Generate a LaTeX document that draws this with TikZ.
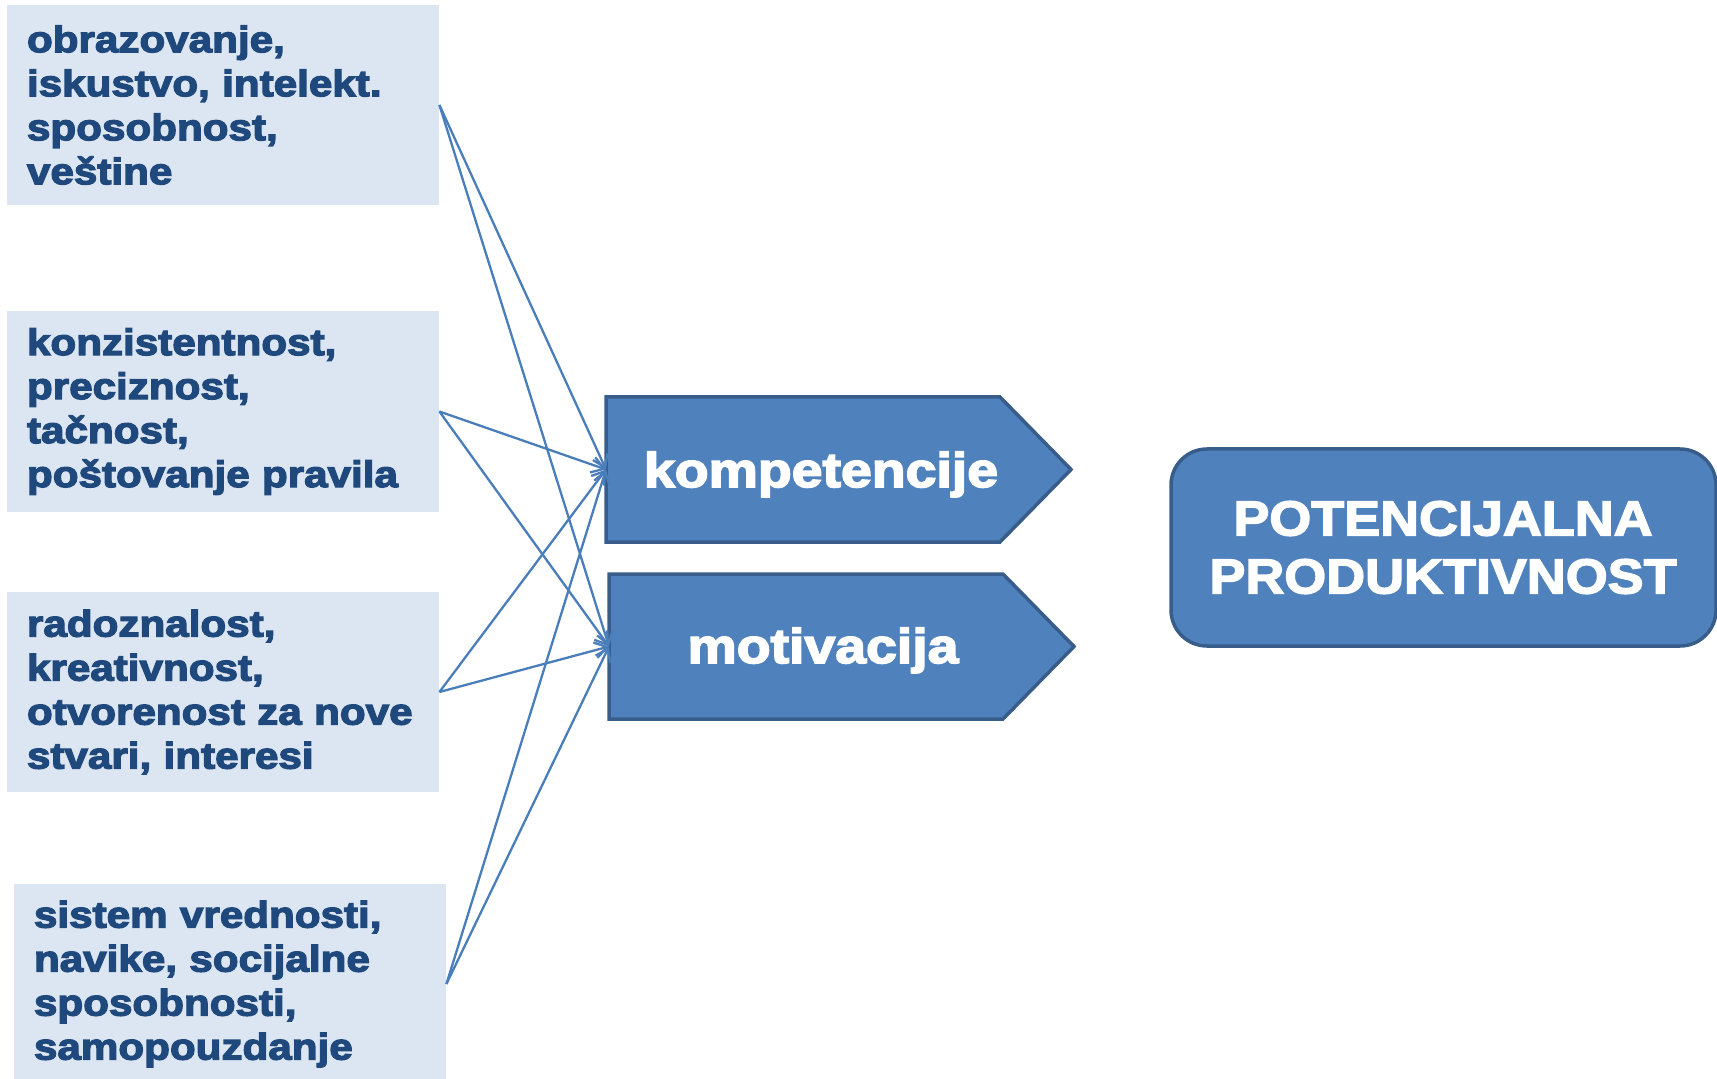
\documentclass[tikz,border=0pt]{standalone}
\usepackage{fontspec}
\setmainfont{Liberation Sans}
\newfontfamily\heavy[FakeStretch=1.14,FakeBold=3.5]{Liberation Sans}
\newfontfamily\capsfont[FakeStretch=1.1,FakeBold=3]{Liberation Sans}
\usetikzlibrary{arrows.meta}
\definecolor{boxfill}{HTML}{DCE6F2}
\definecolor{boxtext}{HTML}{1F497D}
\definecolor{accent}{HTML}{4F81BD}
\definecolor{accentdark}{HTML}{385D8A}
\definecolor{linkcol}{HTML}{4A7EBB}
\begin{document}
\begin{tikzpicture}[x=0.5pt,y=-0.5pt,
  srcbox/.style={rectangle, fill=boxfill, text=boxtext, minimum width=216pt,
    minimum height=100pt, text width=196pt, inner xsep=10pt, inner ysep=0pt,
    align=left, font=\heavy\bfseries\fontsize{18.5}{22}\selectfont},
  arrowbox/.style={fill=accent, draw=accentdark, line width=1.75pt, line join=miter},
  arrowlabel/.style={text=white, inner sep=0pt,
    font=\heavy\bfseries\fontsize{24.3}{29}\selectfont},
  goalbox/.style={rectangle, fill=accent, draw=accentdark, line width=1.75pt,
    rounded corners=18pt, inner sep=0pt, minimum width=272.5pt, minimum height=98.5pt},
  goallabel/.style={text=white, align=center, inner sep=0pt,
    font=\capsfont\bfseries\fontsize{24.5}{29}\selectfont},
  link/.style={draw=linkcol, line width=1.15pt, -{Straight Barb[length=6pt,width=8pt]}}
]
\useasboundingbox (0,0) rectangle (1717,1079);

% source boxes
\node[srcbox] (b1) at (223,105) {obrazovanje,\\iskustvo, intelekt.\\sposobnost,\\veštine};
\node[srcbox, minimum height=100.5pt] (b2) at (223,411.5) {konzistentnost,\\preciznost,\\tačnost,\\poštovanje pravila};
\node[srcbox] (b3) at (223,692) {radoznalost,\\kreativnost,\\otvorenost za nove\\stvari, interesi};
\node[srcbox] (b4) at (230,984) {sistem vrednosti,\\navike, socijalne\\sposobnosti,\\samopouzdanje};

% pentagon arrows
\draw[arrowbox] (606,397) -- (1000,397) -- (1071,469.5) -- (1000,542) -- (606,542) -- cycle;
\coordinate (kin) at (606,469.5);
\node[arrowlabel, anchor=base] (k) at (821,487) {kompetencije};

\draw[arrowbox] (609,574) -- (1003,574) -- (1074,646.5) -- (1003,719) -- (609,719) -- cycle;
\coordinate (min) at (609,646.5);
\node[arrowlabel, anchor=base] (m) at (823,663) {motivacija};

% goal
\node[goalbox] (pp) at (1443.5,547.5) {};
\node[goallabel] (ppt) at (1443,547.5) {POTENCIJALNA\\PRODUKTIVNOST};

% connectors
\foreach \b in {b1,b2,b3,b4}{
  \draw[link] (\b.east) -- (kin);
  \draw[link] (\b.east) -- (min);
}
\end{tikzpicture}
\end{document}
